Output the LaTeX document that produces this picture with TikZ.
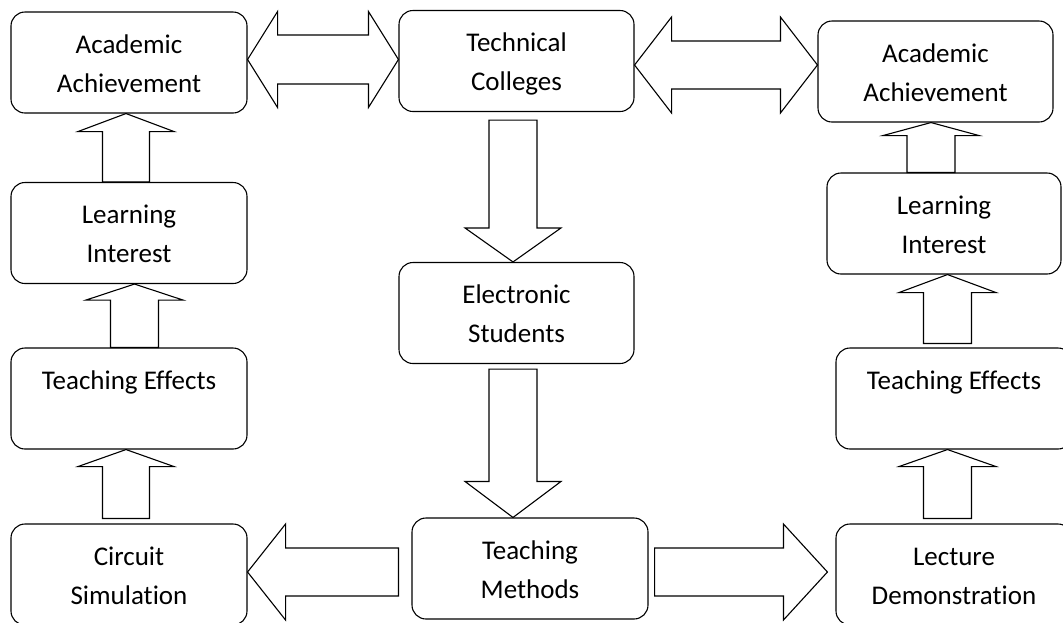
\documentclass[tikz,border=0pt]{standalone}
\usepackage{fontspec}
\setmainfont{Carlito}[Ligatures={NoCommon}]
\usetikzlibrary{calc}
\newcommand\lnstrut{\rule[-9.5pt]{0pt}{39pt}}
\tikzset{
  box/.style={draw, line width=1.1pt, rounded corners=14pt, minimum width=236pt,
    minimum height=101pt, inner sep=0pt, align=center,
    font=\fontsize{27}{39}\selectfont},
  blk/.style={draw, line width=1.1pt, line join=miter},
}
% block arrows: #1 centre line, #2 shaft half width, #3 head half width, #4 head length, #5 tip, #6 tail
\newcommand\BlkUp[6]{\draw[blk] let \p1=(#5), \p2=(#6) in
  (#1pt,\y1) -- (#1pt+#3pt,\y1-#4pt) -- (#1pt+#2pt,\y1-#4pt) -- (#1pt+#2pt,\y2)
  -- (#1pt-#2pt,\y2) -- (#1pt-#2pt,\y1-#4pt) -- (#1pt-#3pt,\y1-#4pt) -- cycle;}
\newcommand\BlkDown[6]{\draw[blk] let \p1=(#5), \p2=(#6) in
  (#1pt,\y1) -- (#1pt+#3pt,\y1+#4pt) -- (#1pt+#2pt,\y1+#4pt) -- (#1pt+#2pt,\y2)
  -- (#1pt-#2pt,\y2) -- (#1pt-#2pt,\y1+#4pt) -- (#1pt-#3pt,\y1+#4pt) -- cycle;}
\newcommand\BlkLeft[6]{\draw[blk] let \p1=(#5), \p2=(#6) in
  (\x1,-#1pt) -- (\x1+#4pt,-#1pt+#3pt) -- (\x1+#4pt,-#1pt+#2pt) -- (\x2,-#1pt+#2pt)
  -- (\x2,-#1pt-#2pt) -- (\x1+#4pt,-#1pt-#2pt) -- (\x1+#4pt,-#1pt-#3pt) -- cycle;}
\newcommand\BlkRight[6]{\draw[blk] let \p1=(#5), \p2=(#6) in
  (\x1,-#1pt) -- (\x1-#4pt,-#1pt+#3pt) -- (\x1-#4pt,-#1pt+#2pt) -- (\x2,-#1pt+#2pt)
  -- (\x2,-#1pt-#2pt) -- (\x1-#4pt,-#1pt-#2pt) -- (\x1-#4pt,-#1pt-#3pt) -- cycle;}
\newcommand\BlkDouble[6]{\draw[blk] let \p1=(#5), \p2=(#6) in
  (\x1,-#1pt) -- (\x1+#4pt,-#1pt+#3pt) -- (\x1+#4pt,-#1pt+#2pt) -- (\x2-#4pt,-#1pt+#2pt)
  -- (\x2-#4pt,-#1pt+#3pt) -- (\x2,-#1pt) -- (\x2-#4pt,-#1pt-#3pt) -- (\x2-#4pt,-#1pt-#2pt)
  -- (\x1+#4pt,-#1pt-#2pt) -- (\x1+#4pt,-#1pt-#3pt) -- cycle;}
\begin{document}
\begin{tikzpicture}[x=1pt,y=-1pt]
\useasboundingbox (0,0) rectangle (1063,622);
\clip (0,0) rectangle (1063,622);
% left column
\node[box] (aaL) at (129,62.5) {\lnstrut Academic\\\lnstrut Achievement};
\node[box] (liL) at (129,233) {\lnstrut Learning\\\lnstrut Interest};
\node[box] (teL) at (129,398.5) {\lnstrut Teaching Effects\\\lnstrut};
\node[box] (csL) at (129,574.5) {\lnstrut Circuit\\\lnstrut Simulation};
% middle column
\node[box, minimum width=235pt] (tc) at (516.5,61) {\lnstrut Technical\\\lnstrut Colleges};
\node[box, minimum width=235pt] (es) at (516.5,313) {\lnstrut Electronic\\\lnstrut Students};
\node[box] (tm) at (530,568.5) {\lnstrut Teaching\\\lnstrut Methods};
% right column
\node[box, minimum width=235pt] (aaR) at (935.5,71.5) {\lnstrut Academic\\\lnstrut Achievement};
\node[box, minimum width=234pt] (liR) at (944,223.5) {\lnstrut Learning\\\lnstrut Interest};
\node[box] (teR) at (954,398.5) {\lnstrut Teaching Effects\\\lnstrut};
\node[box] (ldR) at (954,574.5) {\lnstrut Lecture\\\lnstrut Demonstration};
% block arrows
\BlkDouble{59.5}{24.5}{48}{30}{aaL.east}{tc.west}
\BlkDouble{65}{24}{48}{37}{tc.east}{aaR.west}
\BlkDown{513}{24}{48}{34}{es.north}{$(tc.south)+(0,8)$}
\BlkDown{513}{24}{48}{36}{tm.north}{$(es.south)+(0,5)$}
\BlkLeft{572}{24}{48}{38}{csL.east}{$(tm.west)+(-13,0)$}
\BlkRight{572}{24}{48}{44}{$(ldR.west)+(-8,0)$}{$(tm.east)+(6,0)$}
\BlkUp{126}{23.5}{48}{18}{aaL.south}{liL.north}
\BlkUp{134.5}{24}{48.5}{16}{liL.south}{teL.north}
\BlkUp{126}{23.5}{48}{17}{teL.south}{$(csL.north)+(0,-5)$}
\BlkUp{931}{24}{48}{13}{aaR.south}{liR.north}
\BlkUp{947.5}{24}{48.5}{18}{liR.south}{$(teR.north)+(0,-4)$}
\BlkUp{947.5}{24}{48.5}{17}{teR.south}{$(ldR.north)+(0,-5)$}
\end{tikzpicture}
\end{document}
